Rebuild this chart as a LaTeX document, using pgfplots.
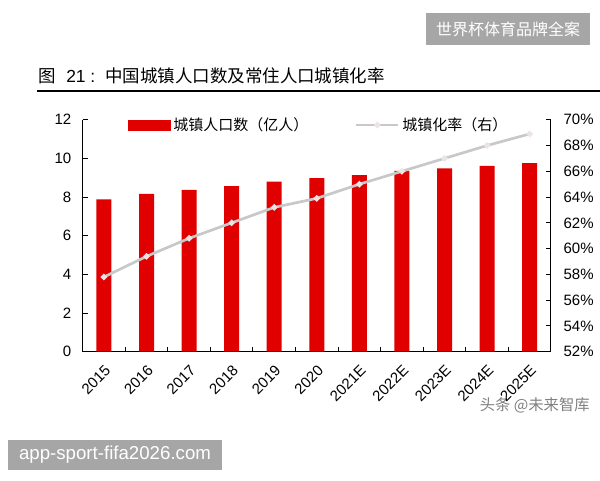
\documentclass[border=0pt]{standalone}
\usepackage{pgfplots}
\pgfplotsset{compat=1.18}
\usepackage{fontspec}
\setmainfont{Liberation Sans}
\newfontfamily\cjk{Noto Sans CJK SC}
\definecolor{barred}{RGB}{224,0,0}
\definecolor{linegray}{RGB}{200,200,200}
\definecolor{markgray}{RGB}{236,228,228}
\definecolor{boxgray}{RGB}{166,166,166}
\pgfplotstableread{
x bar rate
0 7.88 57.8
1 8.16 59.4
2 8.37 60.8
3 8.57 62.0
4 8.80 63.2
5 8.98 63.9
6 9.14 65.0
7 9.35 66.0
8 9.49 67.0
9 9.62 68.0
10 9.76 68.9
}\datatable
\begin{document}
\begin{tikzpicture}
\useasboundingbox (0,0) rectangle (450pt,360pt);
\fill[white] (0,0) rectangle (450pt,360pt);
% title
\node[anchor=west, inner sep=0pt, font=\fontsize{13.1pt}{15pt}\selectfont] at (28.5pt,303pt) {{\cjk 图}\hspace{7.9pt}21\hspace{3.5pt}:\hspace{7.6pt}{\cjk 中国城镇人口数及常住人口城镇化率}};
\draw[line width=1.5pt] (27.75pt,292.1pt) -- (450pt,292.1pt);
% watermark boxes
\fill[boxgray] (319.5pt,326.25pt) rectangle (442.5pt,350.25pt);
\node[text=white, font=\cjk\fontsize{12pt}{14pt}\selectfont] at (381pt,338.25pt) {世界杯体育品牌全案};
\fill[boxgray] (6pt,7.5pt) rectangle (166.5pt,30pt);
\node[text=white, font=\fontsize{14pt}{16pt}\selectfont] at (86.25pt,18.75pt) {app-sport-fifa2026.com};
\node[text=gray, anchor=east, inner sep=0pt, font=\cjk\fontsize{11.5pt}{13pt}\selectfont] at (442.5pt,56.25pt) {头条 @未来智库};

\begin{axis}[
  at={(62pt,96.2pt)}, anchor=south west, scale only axis,
  width=351.2pt, height=174pt,
  xmin=-0.5, xmax=10.5, ymin=0, ymax=12,
  axis x line*=bottom, axis y line*=left,
  axis line style={black, line width=0.7pt},
  ytick={0,2,...,12},
  xtick={0,...,10},
  xticklabels={2015,2016,2017,2018,2019,2020,2021E,2022E,2023E,2024E,2025E},
  major x tick style={draw=none},
  minor xtick={0.5,1.5,...,9.5},
  minor x tick style={black, line width=0.7pt},
  minor tick length=3.75pt,
  major tick length=3.75pt,
  tick align=inside,
  tick style={black, line width=0.7pt},
  tick label style={font=\fontsize{11.25pt}{13pt}\selectfont},
  /pgf/number format/assume math mode=true,
  yticklabel style={xshift=-5pt},
  xticklabel style={rotate=45, anchor=north east, xshift=-3pt, yshift=-3pt},
]
\addplot[ybar, bar width=11.25pt, fill=barred, draw=none] table[x=x, y=bar] {\datatable};
\end{axis}

\begin{axis}[
  at={(62pt,96.2pt)}, anchor=south west, scale only axis,
  width=351.2pt, height=174pt,
  xmin=-0.5, xmax=10.5, ymin=52, ymax=70,
  axis x line=none, axis y line*=right,
  axis line style={black, line width=0.7pt},
  ytick={52,54,...,70},
  yticklabels={52\%,54\%,56\%,58\%,60\%,62\%,64\%,66\%,68\%,70\%},
  major tick length=3.75pt,
  tick align=inside,
  tick style={black, line width=0.7pt},
  tick label style={font=\fontsize{11.25pt}{13pt}\selectfont},
  yticklabel style={xshift=6pt},
  legend style={at={(0.0967,0.977)}, anchor=west, draw=none, fill=none,
    inner sep=0pt, legend columns=2,
    font=\cjk\fontsize{11.25pt}{13pt}\selectfont,
    /tikz/column 2/.style={column sep=33pt}},
]
\addlegendimage{legend image code/.code={\fill[barred] (0pt,-3.75pt) rectangle (31.5pt,3.75pt);}}
\addlegendentry{城镇人口数（亿人）}
\addplot[linegray, line width=2pt, mark=*, mark size=1.2pt,
  mark options={fill=markgray, draw=markgray},
  legend image code/.code={\draw[linegray, line width=2pt] (0pt,0pt) -- (31.5pt,0pt);
    \fill[markgray] (15.75pt,0pt) circle (1.2pt);}]
  table[x=x, y=rate] {\datatable};
\addlegendentry{城镇化率（右）}
\end{axis}
\end{tikzpicture}
\end{document}
